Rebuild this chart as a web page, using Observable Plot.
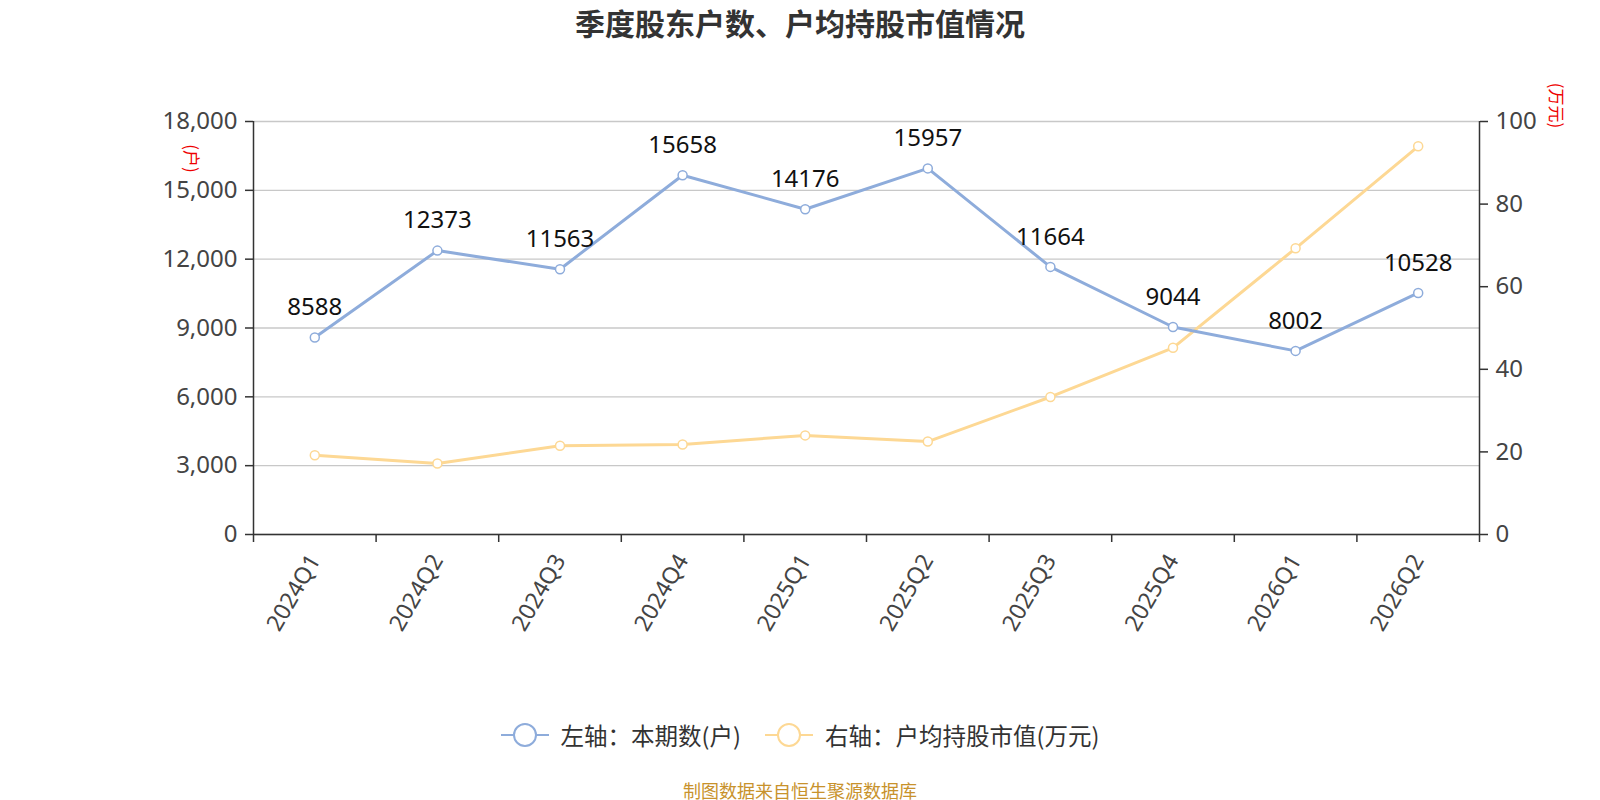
<!DOCTYPE html>
<html>
<head>
<meta charset="utf-8">
<script src="https://cdn.jsdelivr.net/npm/d3@7"></script>
<script src="https://cdn.jsdelivr.net/npm/@observablehq/plot@0.6"></script>
<style>
  html, body { margin: 0; padding: 0; background: #fff; }
  body { width: 1600px; height: 800px; position: relative; overflow: hidden;
         font-family: "Noto Sans CJK SC", "Noto Sans", sans-serif; }
  #chart { position: absolute; top: 0; left: 0; z-index: 0; }
  #title { position: absolute; top: 0px; left: 0; width: 1600px; z-index: 2;
           text-align: center; font-size: 30px; font-weight: bold; color: #333; }
  .unit { position: absolute; z-index: 2; color: #e00; font-size: 17px; transform: rotate(90deg); transform-origin: center; white-space: nowrap; }
  #legend { position: absolute; top: 718px; left: 0; width: 1600px; z-index: 2; display: flex; justify-content: center; align-items: center;
            font-size: 23.5px; color: #333; }
  .item { display: flex; align-items: center; margin: 0 12px; }
  .item svg { margin-right: 12px; }
  #caption { position: absolute; top: 777px; left: 0; width: 1600px; z-index: 2; text-align: center; font-size: 18px; color: #c8922c; }
</style>
</head>
<body>
<div id="chart"></div>
<div id="title">季度股东户数、户均持股市值情况</div>
<div class="unit" style="left:178px; top:146px;">(户)</div>
<div class="unit" style="left:1535px; top:93px;">(万元)</div>
<div id="legend"></div>
<div id="caption">制图数据来自恒生聚源数据库</div>
<script>
const quarters = ["2024Q1","2024Q2","2024Q3","2024Q4","2025Q1","2025Q2","2025Q3","2025Q4","2026Q1","2026Q2"];
const holders = [8588, 12373, 11563, 15658, 14176, 15957, 11664, 9044, 8002, 10528];
const avgValue = [19.2, 17.2, 21.5, 21.8, 24.0, 22.5, 33.3, 45.2, 69.3, 94.0];
const leftTicks = [0, 3000, 6000, 9000, 12000, 15000, 18000];
const rightTicks = [0, 20, 40, 60, 80, 100];
const seriesNames = ["左轴：本期数(户)", "右轴：户均持股市值(万元)"];
const blue = "#8eacdb";
const yellow = "#fdd894";

const leftMax = 18000, rightMax = 100;
const k = leftMax / rightMax;

const dataL = quarters.map((q, i) => ({i: i + 0.5, q, v: holders[i]}));
const dataR = quarters.map((q, i) => ({i: i + 0.5, q, v: avgValue[i] * k}));
const boundaries = d3.range(quarters.length + 1);

const chart = Plot.plot({
  width: 1600,
  height: 660,
  marginLeft: 253,
  marginRight: 121,
  marginTop: 121,
  marginBottom: 126,
  style: {fontFamily: '"Noto Sans", "Open Sans", sans-serif', fontSize: "24px", color: "#333", background: "#fff"},
  x: {type: "linear", domain: [0, quarters.length]},
  y: {domain: [0, leftMax]},
  marks: [
    Plot.gridY(leftTicks, {stroke: "#c8c8c8", strokeOpacity: 1, strokeWidth: 1.3}),
    Plot.axisY(leftTicks, {anchor: "left", tickSize: 8, tickPadding: 8, tickFormat: d3.format(","), stroke: "#333", strokeWidth: 1.5, fontSize: 24, fill: "#444", label: null}),
    Plot.axisY(rightTicks.map(d => d * k), {anchor: "right", tickSize: 8, tickPadding: 8, tickFormat: d => d / k, stroke: "#333", strokeWidth: 1.5, fontSize: 24, fill: "#444", label: null}),
    Plot.ruleX([0], {stroke: "#333", strokeWidth: 1.5}),
    Plot.ruleX([quarters.length], {stroke: "#333", strokeWidth: 1.5}),
    Plot.axisX(boundaries, {anchor: "bottom", tickSize: 8, tickFormat: () => "", stroke: "#333", strokeWidth: 1.5, label: null}),
    Plot.axisX(dataL.map(d => d.i), {anchor: "bottom", tickSize: 0, tickPadding: 22, tickRotate: -60, tickFormat: d => quarters[Math.floor(d)], fontSize: 23, fill: "#444", label: null}),
    Plot.ruleY([0], {stroke: "#333", strokeWidth: 1.5}),
    Plot.line(dataR, {x: "i", y: "v", stroke: yellow, strokeWidth: 3}),
    Plot.line(dataL, {x: "i", y: "v", stroke: blue, strokeWidth: 3}),
    Plot.dot(dataR, {x: "i", y: "v", r: 4.5, fill: "#fff", stroke: yellow, strokeWidth: 1.5}),
    Plot.dot(dataL, {x: "i", y: "v", r: 4.5, fill: "#fff", stroke: blue, strokeWidth: 1.5}),
    Plot.text(dataL, {x: "i", y: "v", text: d => String(d.v), dy: -30, fontSize: 24, fill: "#111"})
  ]
});
document.getElementById("chart").appendChild(chart);

const legend = document.getElementById("legend");
[[blue, seriesNames[0]], [yellow, seriesNames[1]]].forEach(([c, name]) => {
  const item = document.createElement("div");
  item.className = "item";
  item.innerHTML = `<svg width="48" height="28"><line x1="0" y1="14" x2="48" y2="14" stroke="${c}" stroke-width="2"/><circle cx="24" cy="14" r="11" fill="#fff" stroke="${c}" stroke-width="2"/></svg><span>${name}</span>`;
  legend.appendChild(item);
});
</script>
</body>
</html>
